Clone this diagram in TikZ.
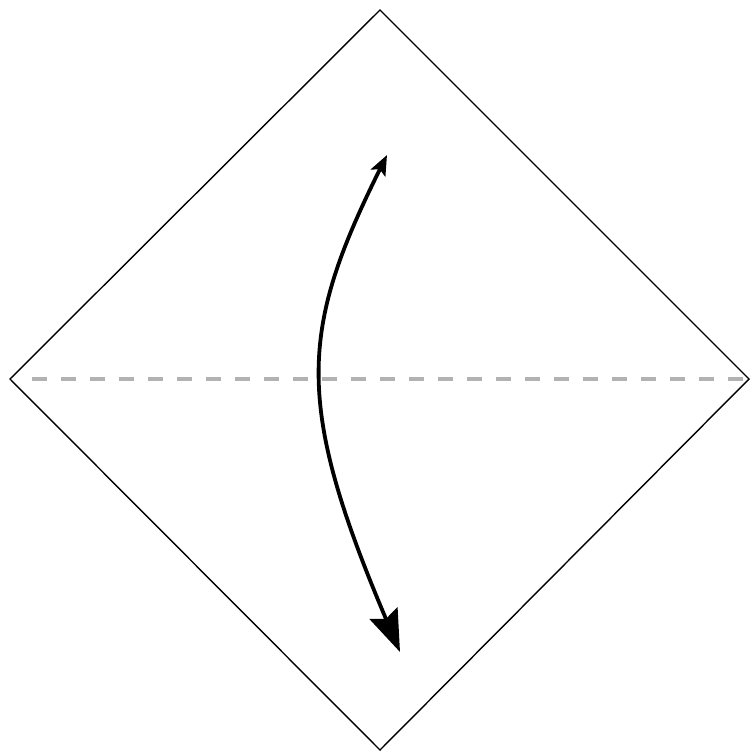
\documentclass[tikz,border=0pt]{standalone}
\usetikzlibrary{arrows.meta}
\begin{document}
\begin{tikzpicture}[x=1pt, y=-1pt,
  edge/.style={draw=black,line width=1.4pt,line join=miter},
  fold/.style={draw=black!30,line width=3.8pt,dash pattern=on 15pt off 14pt},
  turn/.style={draw=black,line width=3.8pt,{Stealth[length=20pt,width=16pt,inset=4pt]}-{Stealth[length=42pt,width=30pt,inset=6pt]}}]
\useasboundingbox (0,0) rectangle (751,756);
\coordinate (top) at (380,10);
\coordinate (left) at (10,379);
\coordinate (right) at (749,379);
\coordinate (bottom) at (380,750);
\coordinate (up) at (387,155);
\coordinate (down) at (400,652);
\draw[fold] ([xshift=22pt]left) -- ([xshift=-6pt]right);
\draw[edge] (top) -- (right) -- (bottom) -- (left) -- cycle;
\draw[turn] (up) .. controls (300,330) and (294,402) .. (down);
\end{tikzpicture}
\end{document}
